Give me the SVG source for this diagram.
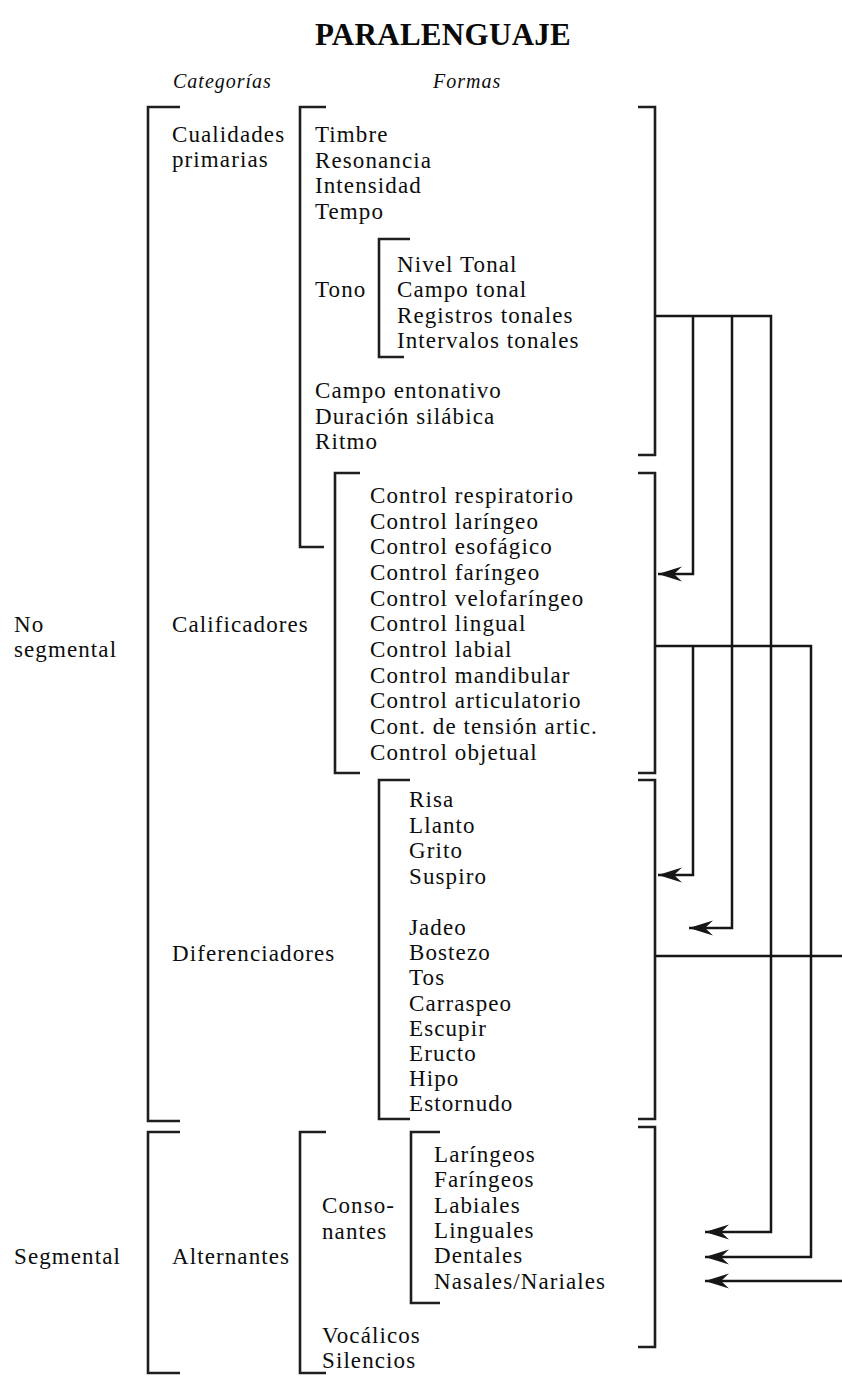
<svg xmlns="http://www.w3.org/2000/svg" width="842" height="1376" viewBox="0 0 842 1376">
<defs>
<style>
.t{font-family:"Liberation Serif","Times New Roman",serif;font-size:23px;letter-spacing:1.1px;fill:#0d0d0d}
.h{font-family:"Liberation Serif","Times New Roman",serif;font-size:20px;font-style:italic;letter-spacing:1px;fill:#0d0d0d}
.title{font-family:"Liberation Serif","Times New Roman",serif;font-size:31px;font-weight:bold;letter-spacing:0.3px;fill:#0a0a0a}
.br{fill:none;stroke:#1e1e1e;stroke-width:2.6}
.cn{fill:none;stroke:#161616;stroke-width:2.5}
</style>
<marker id="ah" viewBox="0 0 24 16" refX="24" refY="8" markerWidth="24" markerHeight="16" markerUnits="userSpaceOnUse" orient="auto">
<path d="M24,8 L0,0.5 L8,8 L0,15.5 Z" fill="#161616"/>
</marker>
</defs>
<rect width="842" height="1376" fill="#fff"/>

<g id="title">
<text class="title" x="443" y="45" text-anchor="middle">PARALENGUAJE</text>
</g>
<g id="headers">
<text class="h" x="173" y="88">Categorías</text>
<text class="h" x="433" y="88">Formas</text>
</g>

<g id="no-segmental">
<path class="br" d="M180,107 H148 V1121 H180"/>
<text class="t" x="14" y="632">No</text>
<text class="t" x="14" y="657">segmental</text>
</g>

<g id="cualidades-primarias">
<path class="br" d="M326,107 H300 V547 H324"/>
<path class="br" d="M638,107 H655 V455 H638"/>
<text class="t" x="172" y="142">Cualidades</text>
<text class="t" x="172" y="167">primarias</text>
<text class="t" x="315" y="142">Timbre</text>
<text class="t" x="315" y="167.6">Resonancia</text>
<text class="t" x="315" y="193.2">Intensidad</text>
<text class="t" x="315" y="218.8">Tempo</text>
<text class="t" x="315" y="297">Tono</text>
<text class="t" x="315" y="398">Campo entonativo</text>
<text class="t" x="315" y="423.6">Duración silábica</text>
<text class="t" x="315" y="449.2">Ritmo</text>
</g>

<g id="tono">
<path class="br" d="M410,239 H379 V357 H404"/>
<text class="t" x="397" y="271.5">Nivel Tonal</text>
<text class="t" x="397" y="297">Campo tonal</text>
<text class="t" x="397" y="322.5">Registros tonales</text>
<text class="t" x="397" y="348">Intervalos tonales</text>
</g>

<g id="calificadores">
<path class="br" d="M360,473 H335 V773 H360"/>
<path class="br" d="M638,473 H655 V773 H638"/>
<text class="t" x="172" y="632">Calificadores</text>
<text class="t" x="370" y="503">Control respiratorio</text>
<text class="t" x="370" y="528.6">Control laríngeo</text>
<text class="t" x="370" y="554.3">Control esofágico</text>
<text class="t" x="370" y="580">Control faríngeo</text>
<text class="t" x="370" y="605.6">Control velofaríngeo</text>
<text class="t" x="370" y="631.3">Control lingual</text>
<text class="t" x="370" y="657">Control labial</text>
<text class="t" x="370" y="682.6">Control mandibular</text>
<text class="t" x="370" y="708.2">Control articulatorio</text>
<text class="t" x="370" y="733.9">Cont. de tensión artic.</text>
<text class="t" x="370" y="759.5">Control objetual</text>
</g>

<g id="diferenciadores">
<path class="br" d="M410,780 H379 V1119 H410"/>
<path class="br" d="M638,780 H655 V1119 H638"/>
<text class="t" x="172" y="961">Diferenciadores</text>
<text class="t" x="409" y="807">Risa</text>
<text class="t" x="409" y="832.5">Llanto</text>
<text class="t" x="409" y="858">Grito</text>
<text class="t" x="409" y="883.5">Suspiro</text>
<text class="t" x="409" y="935">Jadeo</text>
<text class="t" x="409" y="960.2">Bostezo</text>
<text class="t" x="409" y="985.4">Tos</text>
<text class="t" x="409" y="1010.6">Carraspeo</text>
<text class="t" x="409" y="1035.8">Escupir</text>
<text class="t" x="409" y="1061">Eructo</text>
<text class="t" x="409" y="1086.2">Hipo</text>
<text class="t" x="409" y="1111.4">Estornudo</text>
</g>

<g id="segmental">
<path class="br" d="M180,1132 H148 V1373 H180"/>
<text class="t" x="14" y="1264">Segmental</text>
</g>

<g id="alternantes">
<path class="br" d="M326,1132 H300 V1373 H326"/>
<path class="br" d="M638,1127 H655 V1347 H638"/>
<text class="t" x="172" y="1264">Alternantes</text>
<text class="t" x="322" y="1343">Vocálicos</text>
<text class="t" x="322" y="1368">Silencios</text>
</g>

<g id="consonantes">
<path class="br" d="M440,1132 H411 V1303 H440"/>
<text class="t" x="322" y="1213">Conso-</text>
<text class="t" x="322" y="1238.5">nantes</text>
<text class="t" x="434" y="1162">Laríngeos</text>
<text class="t" x="434" y="1187.3">Faríngeos</text>
<text class="t" x="434" y="1212.6">Labiales</text>
<text class="t" x="434" y="1237.9">Linguales</text>
<text class="t" x="434" y="1263.2">Dentales</text>
<text class="t" x="434" y="1288.5">Nasales/Nariales</text>
</g>

<g id="connectors">
<path class="cn" d="M655,316 H771 V1232 H705" marker-end="url(#ah)"/>
<path class="cn" d="M693,316 V574 H658" marker-end="url(#ah)"/>
<path class="cn" d="M732,316 V928 H689" marker-end="url(#ah)"/>
<path class="cn" d="M655,646 H811 V1257 H705" marker-end="url(#ah)"/>
<path class="cn" d="M693,646 V875 H658" marker-end="url(#ah)"/>
<path class="cn" d="M655,956 H842"/>
<path class="cn" d="M842,1281 H705" marker-end="url(#ah)"/>
</g>
</svg>
